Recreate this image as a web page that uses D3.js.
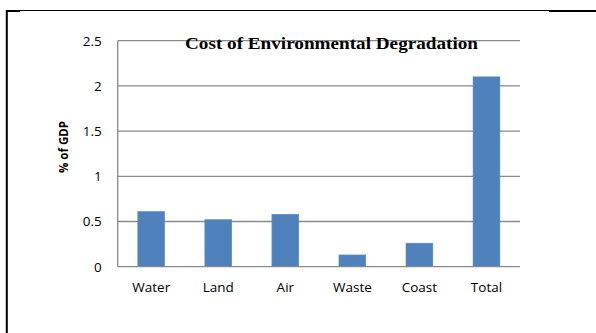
<!DOCTYPE html>
<html>
<head>
<meta charset="utf-8">
<script src="https://cdn.jsdelivr.net/npm/d3@7"></script>
<style>
  html, body { margin: 0; padding: 0; background: #fff; }
  svg { display: block; }
</style>
</head>
<body>
<svg id="chart" width="596" height="333"></svg>
<script>
// Cost of environmental degradation, share of GDP by category
const categories = ["Water", "Land", "Air", "Waste", "Coast", "Total"];
const costPctGDP = [0.61, 0.52, 0.58, 0.13, 0.26, 2.10];
const yTicks = [0, 0.5, 1, 1.5, 2, 2.5];
const yTickLabels = ["0", "0.5", "1", "1.5", "2", "2.5"];

const svg = d3.select("#chart");
const sans = "'Open Sans', 'Noto Sans', sans-serif";

// Outer frame (left and top rules)
svg.append("line").attr("x1", 6.8).attr("x2", 6.8).attr("y1", 10).attr("y2", 333)
  .attr("stroke", "#000").attr("stroke-width", 2);
svg.append("line").attr("x1", 6).attr("x2", 20).attr("y1", 11).attr("y2", 11)
  .attr("stroke", "#000").attr("stroke-width", 2);
svg.append("line").attr("x1", 20).attr("x2", 549).attr("y1", 10.5).attr("y2", 10.5)
  .attr("stroke", "#000").attr("stroke-width", 1);
svg.append("line").attr("x1", 549).attr("x2", 596).attr("y1", 11).attr("y2", 11)
  .attr("stroke", "#000").attr("stroke-width", 2);

const plot = { left: 117.7, right: 520, top: 40.7, bottom: 266.7 };

const x = d3.scaleBand()
  .domain(categories)
  .range([plot.left, plot.right])
  .paddingInner(0.6)
  .paddingOuter(0.3);

const y = d3.scaleLinear()
  .domain([0, 2.5])
  .range([plot.bottom, plot.top]);

// Horizontal gridlines
svg.append("g")
  .selectAll("line")
  .data(yTicks.filter(d => d > 0))
  .join("line")
  .attr("x1", plot.left).attr("x2", plot.right)
  .attr("y1", d => y(d)).attr("y2", d => y(d))
  .attr("stroke", "#8a8a8a").attr("stroke-width", 1.3);

// Bars
svg.append("g")
  .selectAll("rect")
  .data(categories.map((c, i) => ({ c, v: costPctGDP[i] })))
  .join("rect")
  .attr("x", d => x(d.c))
  .attr("width", x.bandwidth())
  .attr("y", d => y(d.v))
  .attr("height", d => y(0) - y(d.v))
  .attr("fill", "#4f81bd")
  .attr("stroke", "#5a8ac6")
  .attr("stroke-width", 0.6);

// Axis lines
svg.append("line").attr("x1", plot.left).attr("x2", plot.left)
  .attr("y1", plot.top).attr("y2", plot.bottom)
  .attr("stroke", "#8a8a8a").attr("stroke-width", 1.3);
svg.append("line").attr("x1", plot.left).attr("x2", plot.right)
  .attr("y1", plot.bottom).attr("y2", plot.bottom)
  .attr("stroke", "#8a8a8a").attr("stroke-width", 1.3);

// Y tick labels
const yAxis = d3.axisLeft(y)
  .tickValues(yTicks)
  .tickFormat((d, i) => yTickLabels[i])
  .tickSize(0)
  .tickPadding(16);
const gy = svg.append("g").attr("transform", `translate(${plot.left},0)`).call(yAxis);
gy.select(".domain").remove();
gy.selectAll("text")
  .attr("font-family", sans)
  .attr("font-size", 13.5)
  .attr("fill", "#000");

// X category labels
const xAxis = d3.axisBottom(x).tickSize(0).tickPadding(16);
const gx = svg.append("g").attr("transform", `translate(0,${plot.bottom})`).call(xAxis);
gx.select(".domain").remove();
gx.selectAll("text")
  .attr("font-family", sans)
  .attr("font-size", 13.5)
  .attr("fill", "#000");

// Y axis title
svg.append("text")
  .attr("transform", "translate(68,147) rotate(-90)")
  .attr("text-anchor", "middle")
  .attr("font-family", sans)
  .attr("font-weight", "bold")
  .attr("font-size", 11.5)
  .attr("fill", "#000")
  .text("% of GDP");

// Chart title
svg.append("text")
  .attr("x", 331.5)
  .attr("y", 49)
  .attr("text-anchor", "middle")
  .attr("font-family", "'Liberation Serif', 'DejaVu Serif', serif")
  .attr("font-weight", "bold")
  .attr("font-size", 17)
  .attr("textLength", 293)
  .attr("lengthAdjust", "spacingAndGlyphs")
  .attr("fill", "#000")
  .text("Cost of Environmental Degradation");
</script>
</body>
</html>
